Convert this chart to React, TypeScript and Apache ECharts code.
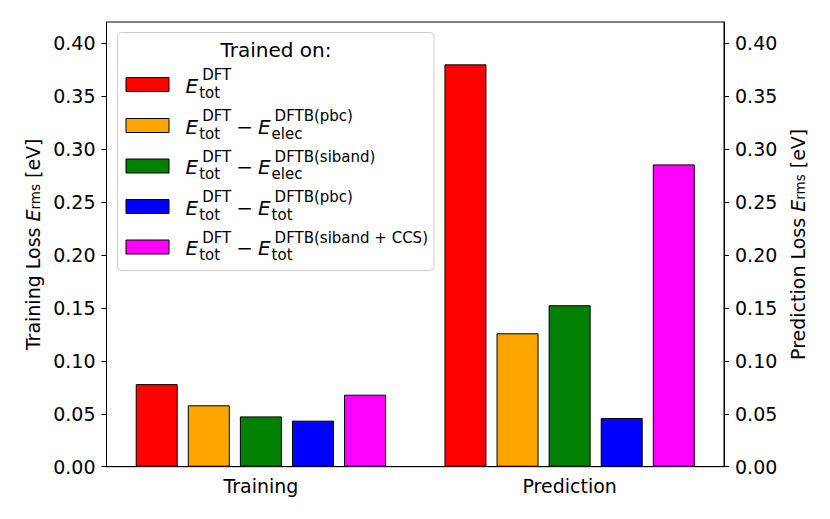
import React, { useEffect, useRef } from "react";
import * as echarts from "echarts";

const categories = ["Training", "Prediction"];
const seriesNames = [
  "E_tot^DFT",
  "E_tot^DFT − E_elec^DFTB(pbc)",
  "E_tot^DFT − E_elec^DFTB(siband)",
  "E_tot^DFT − E_tot^DFTB(pbc)",
  "E_tot^DFT − E_tot^DFTB(siband + CCS)",
];
const seriesColors = ["#ff0000", "#ffa500", "#008000", "#0000ff", "#ff00ff"];
const redValues = [0.078, 0.38];
const orangeValues = [0.058, 0.126];
const greenValues = [0.0475, 0.1525];
const blueValues = [0.0435, 0.046];
const magentaValues = [0.068, 0.2855];
const yTicks = [0, 0.05, 0.1, 0.15, 0.2, 0.25, 0.3, 0.35, 0.4];

type Term = { base: string; sub: string; sup: string };
const legendTerms: Term[][] = [
  [{ base: "E", sub: "tot", sup: "DFT" }],
  [
    { base: "E", sub: "tot", sup: "DFT" },
    { base: "E", sub: "elec", sup: "DFTB(pbc)" },
  ],
  [
    { base: "E", sub: "tot", sup: "DFT" },
    { base: "E", sub: "elec", sup: "DFTB(siband)" },
  ],
  [
    { base: "E", sub: "tot", sup: "DFT" },
    { base: "E", sub: "tot", sup: "DFTB(pbc)" },
  ],
  [
    { base: "E", sub: "tot", sup: "DFT" },
    { base: "E", sub: "tot", sup: "DFTB(siband + CCS)" },
  ],
];

const FONT = "DejaVu Sans";

export default function App() {
  const ref = useRef<HTMLDivElement>(null);
  useEffect(() => {
    if (!ref.current) return;
    const chart = echarts.init(ref.current, undefined, { renderer: "svg" });
    const canvas = document.createElement("canvas");
    const ctx = canvas.getContext("2d")!;
    const measure = (t: string, size: number, italic = false) => {
      ctx.font = `${italic ? "italic " : ""}${size}px "${FONT}"`;
      return ctx.measureText(t).width;
    };

    const MAIN = 20;
    const SMALL = 15;
    const values = [redValues, orangeValues, greenValues, blueValues, magentaValues];

    const legendEls: any[] = [];
    legendEls.push({
      type: "rect",
      shape: { x: 117.5, y: 32.5, width: 316.5, height: 238, r: 4 },
      style: { fill: "rgba(255,255,255,0.8)", stroke: "#cccccc", lineWidth: 1 },
      z: 100,
    });
    legendEls.push({
      type: "text",
      x: 276,
      y: 49.5,
      style: {
        text: "Trained on:",
        fontSize: MAIN,
        fontFamily: FONT,
        fill: "#000",
        align: "center",
        verticalAlign: "middle",
      },
      z: 101,
    });
    const rowY = [84.5, 125.5, 166, 206.5, 247];
    legendTerms.forEach((terms, r) => {
      const cy = rowY[r];
      legendEls.push({
        type: "rect",
        shape: { x: 126, y: cy - 7, width: 43, height: 14 },
        style: { fill: seriesColors[r], stroke: "#000", lineWidth: 1 },
        z: 101,
      });
      let x = 185.5;
      terms.forEach((t, i) => {
        if (i > 0) {
          x += 5;
          legendEls.push({
            type: "text",
            x,
            y: cy + 1,
            style: { text: "−", fontSize: MAIN, fontFamily: FONT, fill: "#000", align: "left", verticalAlign: "middle" },
            z: 101,
          });
          x += measure("−", MAIN) + 5;
        }
        legendEls.push({
          type: "text",
          x,
          y: cy + 1,
          style: { text: t.base, fontSize: MAIN, fontStyle: "italic", fontFamily: FONT, fill: "#000", align: "left", verticalAlign: "middle" },
          z: 101,
        });
        const wE = measure(t.base, MAIN, true);
        const subX = x + wE + 1;
        const supX = x + wE + 4;
        legendEls.push({
          type: "text",
          x: subX,
          y: cy + 8.2,
          style: { text: t.sub, fontSize: SMALL, fontFamily: FONT, fill: "#000", align: "left", verticalAlign: "middle" },
          z: 101,
        });
        legendEls.push({
          type: "text",
          x: supX,
          y: cy - 9.3,
          style: { text: t.sup, fontSize: SMALL, fontFamily: FONT, fill: "#000", align: "left", verticalAlign: "middle" },
          z: 101,
        });
        x = Math.max(subX + measure(t.sub, SMALL), supX + measure(t.sup, SMALL));
      });
    });

    const rich = {
      n: { fontSize: 19, fontFamily: FONT, color: "#000", lineHeight: 19 },
      it: { fontSize: 19, fontFamily: FONT, fontStyle: "italic", color: "#000", lineHeight: 19 },
      sub: { fontSize: 13.5, fontFamily: FONT, color: "#000", lineHeight: 4, verticalAlign: "bottom" },
    } as any;

    const yAxisBase = (pos: "left" | "right", name: string, gap: number) => ({
      type: "value",
      position: pos,
      min: 0,
      max: 0.42,
      interval: 0.05,
      name,
      nameLocation: "middle",
      nameRotate: 90,
      nameGap: gap,
      nameTextStyle: { rich },
      splitLine: { show: false },
      axisLine: { show: true, lineStyle: { color: "#000", width: 1 } },
      axisTick: { show: true, length: 5, inside: false, customValues: yTicks, lineStyle: { color: "#000", width: 1 } },
      axisLabel: {
        show: true,
        customValues: yTicks,
        margin: 11,
        fontSize: 19,
        fontFamily: FONT,
        color: "#000",
        formatter: (v: number) => v.toFixed(2),
      },
    });

    chart.setOption({
      animation: false,
      backgroundColor: "#fff",
      grid: {
        left: 106.5,
        right: 106,
        top: 22,
        bottom: 52.3,
        show: true,
        borderColor: "#000",
        borderWidth: 1,
        backgroundColor: "transparent",
      },
      xAxis: {
        type: "category",
        data: categories,
        axisLine: { show: true, lineStyle: { color: "#000", width: 1 } },
        axisTick: { show: false },
        axisLabel: { fontSize: 19, fontFamily: FONT, color: "#000", margin: 10 },
        splitLine: { show: false },
      },
      yAxis: [
        yAxisBase("left", "{n|Training Loss }{it|E}{sub|rms}{n| [eV]}", 60),
        yAxisBase("right", "{n|Prediction Loss }{it|E}{sub|rms}{n| [eV]}", 57),
      ],
      series: values.map((v, i) => ({
        type: "bar",
        name: seriesNames[i],
        data: v,
        barWidth: 42,
        barGap: "24%",
        itemStyle: { color: seriesColors[i], borderColor: "#000", borderWidth: 1 },
      })),
      graphic: legendEls,
    });
    return () => chart.dispose();
  }, []);
  return (
    <div
      ref={ref}
      style={{ position: "absolute", left: 0, top: 0, width: 830, height: 519 }}
    />
  );
}
